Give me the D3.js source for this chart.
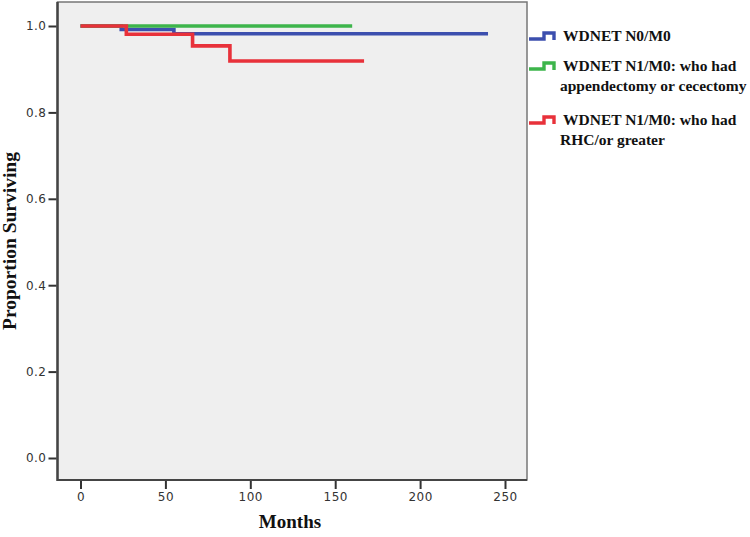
<!DOCTYPE html>
<html>
<head>
<meta charset="utf-8">
<script src="https://cdn.jsdelivr.net/npm/d3@7"></script>
<style>
  body { margin: 0; background: #fff; }
  svg { display: block; }
  .tick text { font-family: "DejaVu Sans", sans-serif; font-size: 12px; fill: #333; letter-spacing: 0.5px; }
  .tick line { stroke: #333; stroke-width: 2; }
  .ttl { font-family: "Liberation Serif", "Times New Roman", serif; font-weight: bold; fill: #111; }
  .leg { font-family: "Liberation Serif", "Times New Roman", serif; font-weight: bold; font-size: 15.5px; fill: #111; }
</style>
</head>
<body>
<div id="graph"></div>
<script>
// survival curves (months, proportion surviving)
var blueTimes = [0, 24, 55, 240],
  blueSurv = [1.0, 0.992, 0.982, 0.982];
var greenTimes = [0, 160],
  greenSurv = [1.0, 1.0];
var redTimes = [0, 27, 66, 88, 167],
  redSurv = [1.0, 0.981, 0.954, 0.919, 0.919];

var xTicks = [0, 50, 100, 150, 200, 250],
  yTicks = [0, 0.2, 0.4, 0.6, 0.8, 1.0];

var seriesNames = [
  ["WDNET N0/M0"],
  ["WDNET N1/M0: who had", "appendectomy or cecectomy"],
  ["WDNET N1/M0: who had", "RHC/or greater"]
];
var colors = ["#3c4fae", "#3db54b", "#e8313a"];

var series = [
  blueTimes.map(function(t, i) { return [t, blueSurv[i]]; }),
  greenTimes.map(function(t, i) { return [t, greenSurv[i]]; }),
  redTimes.map(function(t, i) { return [t, redSurv[i]]; })
];

var W = 750, H = 537,
  frame = { left: 57.5, right: 527, top: 2, bottom: 480 };

var svg = d3.select("#graph").append("svg").attr("width", W).attr("height", H);

var x = d3.scaleLinear().domain([0, 250]).range([80.5, 505]),
  y = d3.scaleLinear().domain([0, 1]).range([458, 26]);

// plot background + frame
svg.append("rect")
  .attr("x", frame.left).attr("y", frame.top)
  .attr("width", frame.right - frame.left).attr("height", frame.bottom - frame.top)
  .attr("fill", "#efefef").attr("stroke", "#777").attr("stroke-width", 1.5);
svg.append("line")
  .attr("x1", frame.left).attr("x2", frame.left)
  .attr("y1", frame.top).attr("y2", frame.bottom + 1)
  .attr("stroke", "#444").attr("stroke-width", 2.5);
svg.append("line")
  .attr("x1", frame.left).attr("x2", frame.right)
  .attr("y1", frame.bottom).attr("y2", frame.bottom)
  .attr("stroke", "#444").attr("stroke-width", 2);

var yAxis = svg.append("g")
  .attr("transform", "translate(" + (frame.left - 1) + ",0)")
  .call(d3.axisLeft(y).tickValues(yTicks).tickFormat(d3.format(".1f")).tickSize(8).tickPadding(2));
yAxis.select(".domain").remove();

var xAxis = svg.append("g")
  .attr("transform", "translate(0," + (frame.bottom + 1) + ")")
  .call(d3.axisBottom(x).tickValues(xTicks).tickSize(8).tickPadding(3));
xAxis.select(".domain").remove();

// curves
var line = d3.line()
  .x(function(d) { return x(d[0]); })
  .y(function(d) { return y(d[1]); })
  .curve(d3.curveStepAfter);

svg.selectAll("path.curve")
  .data(series)
  .enter().append("path")
  .attr("class", "curve")
  .attr("d", line)
  .attr("fill", "none")
  .attr("stroke", function(d, i) { return colors[i]; })
  .attr("stroke-width", 3.6);

// axis titles
svg.append("text").attr("class", "ttl")
  .attr("x", 290).attr("y", 528)
  .attr("text-anchor", "middle").attr("font-size", 19)
  .text("Months");
svg.append("text").attr("class", "ttl")
  .attr("transform", "translate(16," + ((frame.top + frame.bottom) / 2) + ") rotate(-90)")
  .attr("text-anchor", "middle").attr("font-size", 19.5)
  .text("Proportion Surviving");

// legend
var legY = [41, 71, 125],
  legStep = d3.line().curve(d3.curveStepAfter);

var leg = svg.selectAll("g.leg")
  .data(seriesNames)
  .enter().append("g")
  .attr("class", "leg-item")
  .attr("transform", function(d, i) { return "translate(0," + legY[i] + ")"; });

leg.append("path")
  .attr("d", legStep([[529, -2], [544, -8], [554, -8], [554, -1]]))
  .attr("fill", "none")
  .attr("stroke", function(d, i) { return colors[i]; })
  .attr("stroke-width", 3.4);

leg.selectAll("text")
  .data(function(d) { return d; })
  .enter().append("text")
  .attr("class", "leg")
  .attr("x", function(d, j) { return j === 0 ? 563 : 560; })
  .attr("y", function(d, j) { return j * 20; })
  .text(function(d) { return d; });
</script>
</body>
</html>
